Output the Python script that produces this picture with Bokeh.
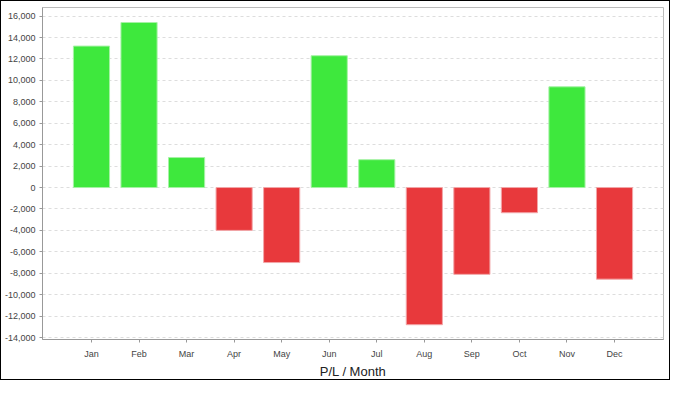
from bokeh.plotting import figure
from bokeh.models import FactorRange, Range1d, FixedTicker, NumeralTickFormatter, ColumnDataSource
from bokeh.embed import file_html
from bokeh.resources import INLINE

months = ["Jan", "Feb", "Mar", "Apr", "May", "Jun", "Jul", "Aug", "Sep", "Oct", "Nov", "Dec"]
pl = [13200, 15400, 2800, -4000, -7000, 12300, 2600, -12800, -8100, -2350, 9400, -8550]
y_ticks = list(range(-14000, 16001, 2000))

POS_FILL, NEG_FILL = "#3ee83d", "#e8393c"
POS_LINE, NEG_LINE = "#a6f2a5", "#f2a6a8"

src = ColumnDataSource(dict(
    month=months,
    pl=pl,
    fill=[POS_FILL if v >= 0 else NEG_FILL for v in pl],
    line=[POS_LINE if v >= 0 else NEG_LINE for v in pl],
))

p = figure(width=670, height=380,
           x_range=FactorRange(factors=months, range_padding=0.53, range_padding_units="absolute"),
           y_range=Range1d(-14180, 16800),
           output_backend="svg", toolbar_location=None,
           x_axis_label="P/L / Month")
p.vbar(x="month", top="pl", bottom=0, width=0.76, fill_color="fill", line_color="line",
       line_width=1, source=src)

p.min_border_left = 40
p.min_border_right = 8
p.min_border_top = 6
p.min_border_bottom = 42
p.outline_line_color = "#bbbbbb"
p.outline_line_width = 1
p.styles = {"border": "1px solid black"}

p.xgrid.visible = False
p.ygrid.grid_line_color = "#dddddd"
p.ygrid.grid_line_dash = "3 3"

p.yaxis.ticker = FixedTicker(ticks=y_ticks, minor_ticks=[])
p.yaxis.formatter = NumeralTickFormatter(format="0,0")

for ax in (p.xaxis[0], p.yaxis[0]):
    ax.axis_line_color = "#999999"
    ax.major_tick_line_color = "#999999"
    ax.major_tick_out = 3
    ax.major_tick_in = 0
    ax.minor_tick_out = 0
    ax.minor_tick_in = 0
    ax.major_label_text_font = "Liberation Sans"
    ax.major_label_text_font_size = "9px"
    ax.major_label_text_color = "#444444"
    ax.major_label_standoff = 4

p.xaxis.major_label_standoff = 6
p.xaxis.axis_label_text_font = "Liberation Sans"
p.xaxis.axis_label_text_font_size = "13px"
p.xaxis.axis_label_text_font_style = "normal"
p.xaxis.axis_label_text_color = "#222222"
p.xaxis.axis_label_standoff = 2

open("out.html", "w").write(file_html(p, INLINE))
